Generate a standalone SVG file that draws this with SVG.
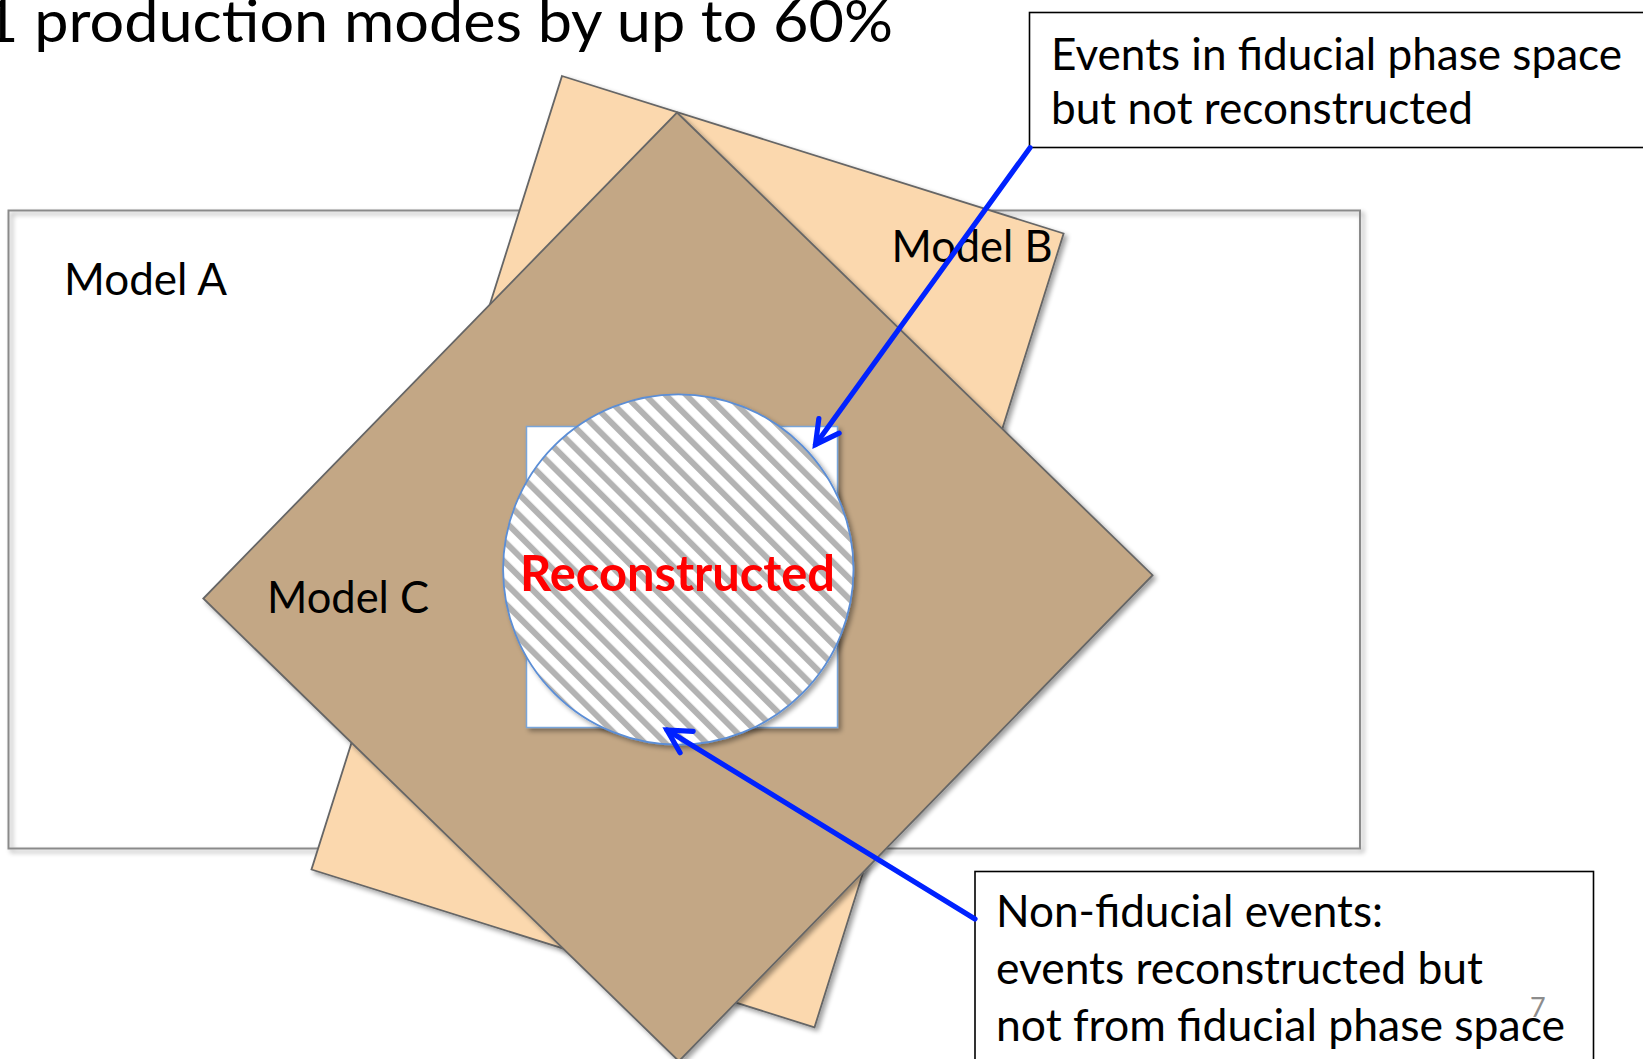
<svg xmlns="http://www.w3.org/2000/svg" width="1643" height="1059" viewBox="0 0 1643 1059">
  <defs>
    <style>
      .txt { font-family: Lato, "Open Sans", "Liberation Sans", sans-serif; fill: #000; }
      .title { font-size: 58px; }
      .body { font-size: 45px; }
      .reco { font-family: Lato, "Open Sans", "Liberation Sans", sans-serif; font-weight: bold; font-size: 49px; fill: #ff0000; }
      .pnum { font-family: Lato, "Open Sans", "Liberation Sans", sans-serif; font-size: 27px; fill: #8c8c8c; }
      .model { stroke: #666666; stroke-width: 1.8; stroke-linejoin: miter; }
      .callout { fill: #ffffff; stroke: #000000; stroke-width: 1.6; }
      .arrow { fill: none; stroke: #0022ff; stroke-width: 5.2; stroke-linecap: round; marker-end: url(#openHead); }
    </style>
    <filter id="shadow" x="-10%" y="-10%" width="120%" height="120%">
      <feGaussianBlur in="SourceAlpha" stdDeviation="2.5" result="b"/>
      <feOffset in="b" dx="3" dy="3" result="o"/>
      <feComponentTransfer in="o" result="s">
        <feFuncA type="linear" slope="0.38"/>
      </feComponentTransfer>
      <feMerge>
        <feMergeNode in="s"/>
        <feMergeNode in="SourceGraphic"/>
      </feMerge>
    </filter>
    <pattern id="hatch" patternUnits="userSpaceOnUse" width="14.5" height="14.5" patternTransform="rotate(-45)">
      <rect x="0" y="0" width="14.5" height="14.5" fill="#ffffff"/>
      <rect x="0" y="0" width="6" height="14.5" fill="#b3b3b3"/>
    </pattern>
    <marker id="openHead" markerUnits="userSpaceOnUse" viewBox="-30 -20 40 40" refX="0" refY="0" markerWidth="40" markerHeight="40" orient="auto" overflow="visible">
      <path d="M-23,-12.5 L0,0 L-23,12.5" fill="none" stroke="#0022ff" stroke-width="5.2" stroke-linecap="round" stroke-linejoin="miter"/>
    </marker>
  </defs>

  <rect width="1643" height="1059" fill="#ffffff"/>

  <!-- slide title, running off the left edge -->
  <text id="title" class="txt title" x="-17" y="42" textLength="910" lengthAdjust="spacingAndGlyphs">1 production modes by up to 60%</text>

  <!-- Model A: open outline rectangle -->
  <g id="modelA">
    <rect x="8.5" y="210.5" width="1351.5" height="638" fill="none" stroke="#8a8a8a" stroke-width="2" filter="url(#shadow)"/>
    <text class="txt body" x="64" y="295" textLength="163" lengthAdjust="spacingAndGlyphs">Model A</text>
  </g>

  <!-- Model B: tilted peach rectangle -->
  <g id="modelB">
    <polygon class="model" points="562,76 1063.6,233.5 814.5,1027.3 311.5,869.5" fill="#fbd8ae" filter="url(#shadow)"/>
  </g>

  <!-- Model C: tan diamond -->
  <g id="modelC">
    <polygon class="model" points="677,112.5 1152.6,575.2 678.9,1061.2 203.3,598.5" fill="#c3a785" filter="url(#shadow)"/>
    <text class="txt body" x="267" y="613" textLength="162" lengthAdjust="spacingAndGlyphs">Model C</text>
  </g>

  <!-- fiducial phase space square -->
  <g id="fiducial">
    <rect x="526.5" y="426.5" width="311" height="301" fill="#ffffff" stroke="#79a5d9" stroke-width="1.5" filter="url(#shadow)"/>
  </g>

  <!-- reconstructed events: hatched circle -->
  <g id="reconstructed">
    <circle cx="678.3" cy="569.5" r="175.2" fill="url(#hatch)" stroke="#5b8ed6" stroke-width="1.8" filter="url(#shadow)"/>
    <text class="reco" x="520" y="590.7" textLength="315" lengthAdjust="spacingAndGlyphs">Reconstructed</text>
  </g>

  <!-- Model B label sits above the diamond -->
  <g id="modelB-label">
    <text class="txt body" x="891.5" y="262" textLength="161" lengthAdjust="spacingAndGlyphs">Model B</text>
  </g>

  <!-- callout boxes -->
  <g id="callout-top">
    <rect class="callout" x="1029.5" y="12.5" width="700" height="135"/>
    <text class="txt body" x="1051" y="70" textLength="571" lengthAdjust="spacingAndGlyphs">Events in fiducial phase space</text>
    <text class="txt body" x="1051" y="124" textLength="422" lengthAdjust="spacingAndGlyphs">but not reconstructed</text>
  </g>

  <g id="callout-bottom">
    <rect class="callout" x="975" y="871.5" width="618.5" height="250"/>
    <text class="txt body" x="996" y="927" textLength="387" lengthAdjust="spacingAndGlyphs">Non-fiducial events:</text>
    <text class="txt body" x="996" y="984" textLength="487" lengthAdjust="spacingAndGlyphs">events reconstructed but</text>
    <text class="txt body" x="996" y="1041" textLength="569" lengthAdjust="spacingAndGlyphs">not from fiducial phase space</text>
  </g>

  <!-- connectors -->
  <g id="connectors">
    <line class="arrow" x1="1030" y1="147.7" x2="815.5" y2="444.5"/>
    <line class="arrow" x1="975" y1="919" x2="667" y2="730"/>
  </g>

  <!-- page number -->
  <text id="page-number" class="pnum" x="1530" y="1017">7</text>
</svg>
